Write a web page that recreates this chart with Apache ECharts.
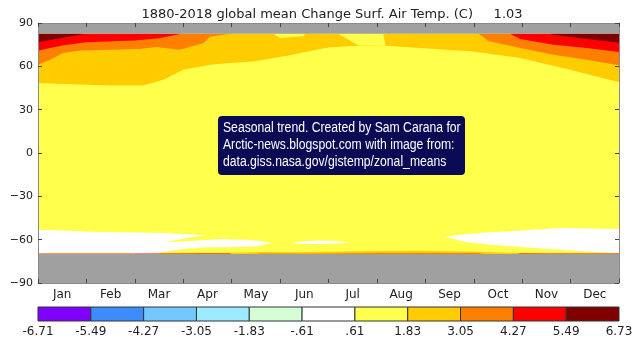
<!DOCTYPE html>
<html>
<head>
<meta charset="utf-8">
<script src="https://cdn.jsdelivr.net/npm/echarts@6/dist/echarts.min.js"></script>
<style>
html, body { margin: 0; padding: 0; background: #fff; }
#chart { width: 640px; height: 346px; }
</style>
</head>
<body>
<div id="chart"></div>
<script>
// Month columns along the x axis (value axis 0..12, one unit per month)
const months = ['Jan', 'Feb', 'Mar', 'Apr', 'May', 'Jun', 'Jul', 'Aug', 'Sep', 'Oct', 'Nov', 'Dec'];

// Contour levels (deg C) and their fill colours
const levelTicks = ['-6.71', '-5.49', '-4.27', '-3.05', '-1.83', '-.61', '.61', '1.83', '3.05', '4.27', '5.49', '6.73'];
const levelColors = ['#8000ff', '#3c8cff', '#73c8ff', '#9beaff', '#d4ffd4', '#ffffff',
                     '#ffff4c', '#ffcc00', '#ff8000', '#ff0000', '#800000'];
const missingColor = '#a0a0a0';

// Latitude range and the band that carries data
const latTicks = [-90, -60, -30, 0, 30, 60, 90];
const dataTop = 82.5;
const dataBottom = -70;

// Northern contours [month, latitude]; each level fills from the line up to dataTop
const goldNorth = [[0, 48.5], [0.52, 47.8], [1.0, 47.3], [1.55, 46.8], [2.17, 46.8], [2.59, 50.7],
  [3.0, 57.7], [3.55, 61.1], [3.97, 62.3], [4.45, 63.4], [5.14, 67.4], [5.83, 72.0], [6.03, 73.2],
  [6.6, 74.3], [7.2, 74.3], [7.89, 72.7], [8.99, 70.3], [9.96, 65.8], [10.99, 57.7], [11.92, 49.6], [12, 49.2]];
const yellowTongueNorth = [[6.2, 82.5], [6.62, 74.4], [7.18, 74.3], [7.13, 82.5]];
const yellowPatchNorth = [[4.86, 82.5], [5.0, 79.7], [5.48, 80.8], [5.52, 82.5]];
const orangeNorthA = [[0, 61.1], [0.25, 64.6], [0.52, 69.2], [0.87, 71.0], [2.1, 72.0], [2.45, 73.4],
  [2.93, 71.5], [3.42, 76.1], [3.55, 80.5], [3.9, 82.2], [3.95, 82.5]];
const orangeNorthB = [[9.1, 82.5], [9.3, 77.5], [9.96, 72.7], [10.65, 68.0], [11.33, 64.6], [12, 60.8]];
const redNorthA = [[0, 70.8], [0.25, 72.7], [0.5, 74.5], [1.0, 76.6], [2.0, 77.8], [2.5, 79.4], [2.97, 82.5]];
const redNorthB = [[9.75, 82.5], [9.96, 78.9], [10.65, 75.0], [11.33, 72.7], [12, 70.0]];
const darkRedNorthA = [[0, 76.6], [0.97, 82.5]];
const darkRedNorthB = [[10.54, 82.5], [10.99, 80.3], [12, 76.4]];

// Southern near-zero (white) areas, outlined as closed rings [month, latitude]
const whiteSouthA = [[0, -70], [0, -53.1], [0.5, -53.6], [1.2, -54.7], [2.0, -55.1], [2.6, -55.4],
  [3.0, -56.0], [3.45, -57.0], [3.0, -59.3], [2.6, -61.8], [3.0, -61.2], [3.5, -60.3], [3.8, -59.6],
  [4.0, -59.8], [4.3, -60.0], [4.6, -61.0], [4.83, -62.5], [4.5, -64.8], [4.0, -65.0], [3.5, -65.2],
  [3.0, -66.5], [2.6, -68.5], [2.36, -70]];
const whiteSouthB = [[5.27, -61.9], [5.5, -61.1], [5.8, -60.6], [6.1, -60.8], [6.45, -62.0],
  [6.1, -62.8], [5.6, -63.0], [5.3, -62.6]];
const whiteSouthC = [[8.41, -57.8], [8.8, -56.3], [9.27, -55.0], [9.96, -53.6], [10.4, -52.8],
  [10.85, -52.0], [11.4, -52.3], [12, -52.7], [12, -69.3], [11.5, -68.5], [10.99, -67.5],
  [9.96, -65.1], [9.27, -63.3], [8.8, -61.5]];

// Thin southern rim just above the data edge; each fills from the line down to dataBottom
const goldSouth = [[0, -70], [2.3, -70], [3.0, -69.5], [4.0, -69.0], [4.6, -68.5], [5.3, -68.7],
  [6.0, -68.4], [7.0, -67.9], [7.9, -67.6], [9.1, -68.3], [9.9, -69.3], [10.5, -70], [12, -70]];
const orangeSouth = [[0, -69.4], [1.95, -69.4], [2.0, -70], [4.5, -70], [4.6, -69.5], [5.3, -69.5],
  [5.35, -69.8], [6.0, -69.5], [7.0, -69.3], [9.1, -69.2], [9.2, -70], [12, -70]];
const redSouth = [[0, -70], [1.97, -70], [2.0, -69.6], [3.95, -69.6], [4.0, -70], [9.9, -70],
  [9.96, -69.6], [12, -69.6]];

// Build the ordered list of filled areas (later entries paint over earlier ones)
function toward(line, lat) {
  return line.concat([[line[line.length - 1][0], lat], [line[0][0], lat]]);
}
const fullWidth = [[0, dataBottom], [12, dataBottom]];
const regions = [
  { level: 6, ring: toward(fullWidth, dataTop) },
  { level: 7, ring: toward(goldNorth, dataTop) },
  { level: 6, ring: yellowTongueNorth },
  { level: 6, ring: yellowPatchNorth },
  { level: 8, ring: toward(orangeNorthA, dataTop) },
  { level: 8, ring: toward(orangeNorthB, dataTop) },
  { level: 9, ring: toward(redNorthA, dataTop) },
  { level: 9, ring: toward(redNorthB, dataTop) },
  { level: 10, ring: toward(darkRedNorthA, dataTop) },
  { level: 10, ring: toward(darkRedNorthB, dataTop) },
  { level: 5, ring: whiteSouthA },
  { level: 5, ring: whiteSouthB },
  { level: 5, ring: whiteSouthC },
  { level: 7, ring: toward(goldSouth, dataBottom) },
  { level: 8, ring: toward(orangeSouth, dataBottom) },
  { level: 9, ring: toward(redSouth, dataBottom) },
  { color: missingColor, ring: toward([[0, dataTop], [12, dataTop]], 90) },
  { color: missingColor, ring: toward([[0, dataBottom], [12, dataBottom]], -90) }
];

const chart = echarts.init(document.getElementById('chart'), null, { renderer: 'canvas' });
const labelFont = 'DejaVu Sans';
const frameColor = '#8a8a8a';
const tickStyle = { show: true, inside: true, length: 4, lineStyle: { color: '#444', width: 1 } };

function monthAxis(position) {
  return {
    type: 'value', gridIndex: 0, position: position, min: 0, max: 12, interval: 1, zlevel: 1,
    axisLine: { show: true, onZero: false, lineStyle: { color: frameColor, width: 1 } },
    axisTick: tickStyle, axisLabel: { show: false }, splitLine: { show: false }
  };
}
function latAxis(position, labels) {
  return {
    type: 'value', gridIndex: 0, position: position, min: -90, max: 90, interval: 30, zlevel: 1,
    axisLine: { show: true, onZero: false, lineStyle: { color: frameColor, width: 1 } },
    axisTick: tickStyle,
    axisLabel: {
      show: labels, margin: 5, fontSize: 11, color: '#222', fontFamily: labelFont,
      formatter: v => (latTicks.indexOf(v) >= 0 ? String(v).replace('-', '\u2212') : '')
    },
    splitLine: { show: false }
  };
}

chart.setOption({
  animation: false,
  backgroundColor: '#fff',
  title: {
    text: '1880-2018 global mean Change Surf. Air Temp. (C)     1.03',
    left: 327, top: 3, textAlign: 'center',
    textStyle: { fontSize: 13, fontWeight: 'normal', color: '#222', fontFamily: labelFont }
  },
  grid: [
    { left: 38, right: 21, top: 23, bottom: 63 },
    { left: 38, right: 21, top: 307, height: 14 }
  ],
  xAxis: [
    monthAxis('bottom'),
    monthAxis('top'),
    {
      type: 'category', gridIndex: 0, position: 'bottom', data: months, boundaryGap: true,
      axisLine: { show: false }, axisTick: { show: false },
      axisLabel: { margin: 6, fontSize: 12, color: '#222', fontFamily: labelFont }
    },
    {
      type: 'value', gridIndex: 1, min: 0, max: levelColors.length, interval: 1,
      axisLine: { show: false }, axisTick: { show: false }, splitLine: { show: false },
      axisLabel: { margin: 5, fontSize: 12, color: '#222', fontFamily: labelFont,
        formatter: v => levelTicks[v] }
    }
  ],
  yAxis: [
    latAxis('left', true),
    latAxis('right', false),
    { type: 'value', gridIndex: 1, min: 0, max: 1, show: false }
  ],
  series: [
    {
      type: 'custom', xAxisIndex: 0, yAxisIndex: 0, clip: true, zlevel: 0, z: 1,
      data: regions.map((r, i) => [0, 0, i]),
      renderItem: function (params, api) {
        const r = regions[api.value(2)];
        return {
          type: 'polygon',
          shape: { points: r.ring.map(p => api.coord(p)) },
          style: { fill: r.color || levelColors[r.level], stroke: null }
        };
      }
    },
    {
      type: 'custom', xAxisIndex: 3, yAxisIndex: 2,
      data: levelColors.map((c, i) => [i, 0, i]),
      renderItem: function (params, api) {
        const i = api.value(2);
        const a = api.coord([i, 1]);
        const b = api.coord([i + 1, 0]);
        return {
          type: 'rect',
          shape: { x: a[0], y: a[1], width: b[0] - a[0], height: b[1] - a[1] },
          style: { fill: levelColors[i], stroke: '#333', lineWidth: 1 }
        };
      }
    }
  ],
  graphic: [
    { type: 'rect', left: 218, top: 116, z: 100,
      shape: { width: 247, height: 59, r: 4 },
      style: { fill: '#0a0a55' } },
    { type: 'text', left: 223, top: 120, z: 101, scaleX: 0.87, originX: 0,
      style: {
        text: 'Seasonal trend. Created by Sam Carana for\nArctic-news.blogspot.com with image from:\ndata.giss.nasa.gov/gistemp/zonal_means',
        fill: '#ffffff', font: '14px "Liberation Sans", Arial, sans-serif',
        lineHeight: 16.7
      } }
  ]
});
</script>
</body>
</html>
